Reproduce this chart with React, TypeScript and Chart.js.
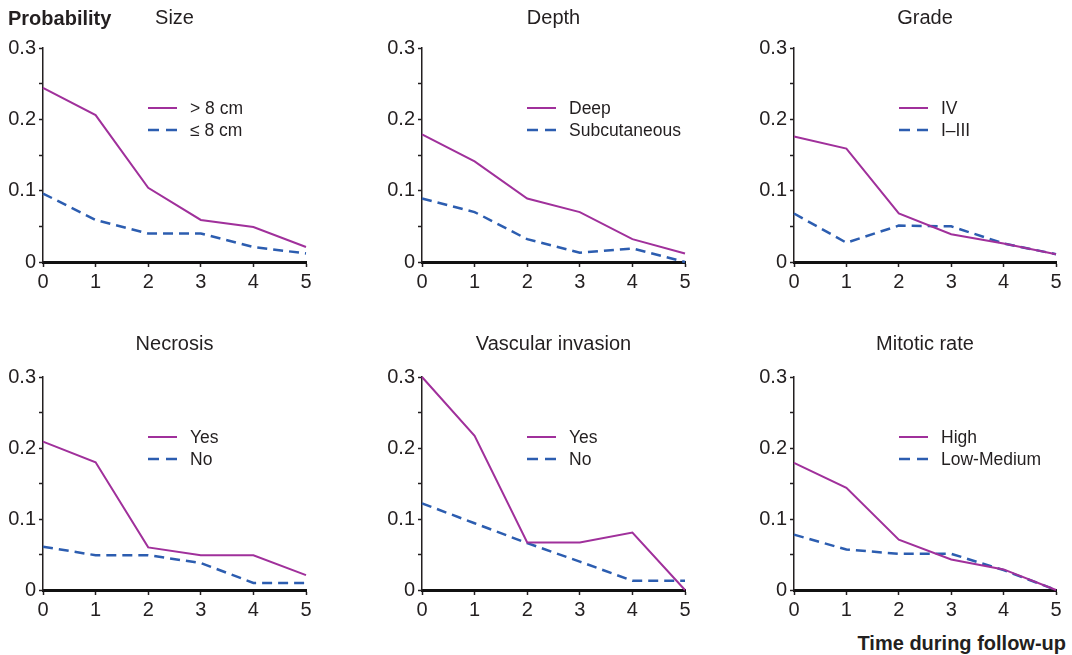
import React, { useEffect, useRef } from 'react';
import { Chart, registerables } from 'chart.js';

Chart.register(...registerables);

// ---------- data ----------
const timeLabels = ['0', '1', '2', '3', '4', '5'];
const yTickValues = [0, 0.1, 0.2, 0.3];

const panelTitles = ['Size', 'Depth', 'Grade', 'Necrosis', 'Vascular invasion', 'Mitotic rate'];
const highLabels = ['> 8 cm', 'Deep', 'IV', 'Yes', 'Yes', 'High'];
const lowLabels = ['≤ 8 cm', 'Subcutaneous', 'I–III', 'No', 'No', 'Low-Medium'];

const sizeHigh = [0.244, 0.206, 0.104, 0.059, 0.049, 0.021];
const sizeLow = [0.096, 0.059, 0.040, 0.040, 0.021, 0.012];
const depthHigh = [0.179, 0.141, 0.089, 0.070, 0.032, 0.012];
const depthLow = [0.089, 0.070, 0.032, 0.013, 0.019, 0.0];
const gradeHigh = [0.176, 0.159, 0.068, 0.039, 0.026, 0.011];
const gradeLow = [0.068, 0.027, 0.051, 0.050, 0.026, 0.011];
const necrosisHigh = [0.209, 0.180, 0.060, 0.049, 0.049, 0.021];
const necrosisLow = [0.061, 0.049, 0.049, 0.038, 0.010, 0.010];
const vascularHigh = [0.300, 0.217, 0.067, 0.067, 0.081, 0.0];
const vascularLow = [0.122, 0.094, 0.066, 0.040, 0.013, 0.013];
const mitoticHigh = [0.179, 0.144, 0.071, 0.043, 0.029, 0.0];
const mitoticLow = [0.078, 0.057, 0.051, 0.051, 0.028, 0.0];

const highSeries = [sizeHigh, depthHigh, gradeHigh, necrosisHigh, vascularHigh, mitoticHigh];
const lowSeries = [sizeLow, depthLow, gradeLow, necrosisLow, vascularLow, mitoticLow];

// ---------- style / layout ----------
const FONT = '"Liberation Sans", Arial, Helvetica, sans-serif';
const TEXT = '#231f20';
const PURPLE = '#a0309b';
const BLUE = '#2c5db0';

const colLefts = [43, 422, 794];
const colWidths = [263, 263, 262];
const rowTops = [48, 377];
const rowHeights = [214, 213];
const titleOffsets = [30, 33];

const PAD_L = 45;
const PAD_T = 45;
const PAD_R = 15;
const PAD_B = 40;

type PanelProps = { idx: number };

function Panel({ idx }: PanelProps) {
  const ref = useRef<HTMLCanvasElement | null>(null);
  const col = idx % 3;
  const row = Math.floor(idx / 3);
  const areaW = colWidths[col];
  const areaH = rowHeights[row];
  const w = PAD_L + areaW + PAD_R;
  const h = PAD_T + areaH + PAD_B;

  useEffect(() => {
    if (!ref.current) return;
    const titleOffset = titleOffsets[row];
    const overlay = {
      id: 'overlay' + idx,
      afterDraw(chart: any) {
        const ctx = chart.ctx;
        const a = chart.chartArea;
        ctx.save();
        ctx.fillStyle = TEXT;
        ctx.font = `20px ${FONT}`;
        ctx.textAlign = 'center';
        ctx.textBaseline = 'middle';
        ctx.fillText(panelTitles[idx], (a.left + a.right) / 2, a.top - titleOffset);

        // legend
        const lx0 = a.left + 105;
        const lx1 = a.left + 134;
        const tx = a.left + 147;
        const rows = [
          { y: a.top + 60, label: highLabels[idx], color: PURPLE, dash: [] as number[], width: 2 },
          { y: a.top + 82, label: lowLabels[idx], color: BLUE, dash: [11, 7], width: 2.5 },
        ];
        ctx.font = `17.5px ${FONT}`;
        ctx.textAlign = 'left';
        for (const r of rows) {
          ctx.beginPath();
          ctx.setLineDash(r.dash);
          ctx.strokeStyle = r.color;
          ctx.lineWidth = r.width;
          ctx.moveTo(lx0, r.y);
          ctx.lineTo(lx1, r.y);
          ctx.stroke();
          ctx.setLineDash([]);
          ctx.fillStyle = TEXT;
          ctx.fillText(r.label, tx, r.y + 1);
        }
        ctx.restore();
      },
    };

    const chart = new Chart(ref.current, {
      type: 'line',
      data: {
        labels: timeLabels,
        datasets: [
          {
            label: highLabels[idx],
            data: highSeries[idx],
            borderColor: PURPLE,
            borderWidth: 2,
            pointRadius: 0,
            tension: 0,
            fill: false,
            clip: false,
          },
          {
            label: lowLabels[idx],
            data: lowSeries[idx],
            borderColor: BLUE,
            borderWidth: 2.5,
            borderDash: [10, 6],
            pointRadius: 0,
            tension: 0,
            fill: false,
            clip: false,
          },
        ],
      },
      options: {
        animation: false,
        responsive: false,
        devicePixelRatio: 1,
        layout: { padding: { left: 0, top: PAD_T, right: PAD_R, bottom: 0 } },
        plugins: {
          legend: { display: false },
          title: { display: false },
          tooltip: { enabled: false },
        },
        scales: {
          x: {
            type: 'category',
            offset: false,
            grid: {
              display: true,
              drawOnChartArea: false,
              drawTicks: true,
              tickLength: 5,
              tickColor: TEXT,
              tickWidth: 1.5,
            },
            border: { display: true, color: '#111', width: 3 },
            ticks: {
              color: TEXT,
              font: { family: FONT, size: 20 },
              padding: 3,
              maxRotation: 0,
              autoSkip: false,
            },
            afterFit(scale: any) {
              scale.height = PAD_B;
            },
          },
          y: {
            min: 0,
            max: 0.3,
            grid: {
              display: true,
              drawOnChartArea: false,
              drawTicks: true,
              tickLength: 4,
              tickColor: TEXT,
              tickWidth: 1.5,
            },
            border: { display: true, color: TEXT, width: 1.5 },
            ticks: {
              stepSize: 0.05,
              color: TEXT,
              font: { family: FONT, size: 20 },
              padding: 3,
              callback: (v: any) => {
                const n = Number(v);
                const hit = yTickValues.find((t) => Math.abs(t - n) < 1e-6);
                return hit === undefined ? '' : String(hit);
              },
            },
            afterFit(scale: any) {
              scale.width = PAD_L;
            },
          },
        },
      },
      plugins: [overlay],
    } as any);
    return () => chart.destroy();
  }, [idx]);

  return (
    <canvas
      ref={ref}
      width={w}
      height={h}
      style={{
        position: 'absolute',
        left: colLefts[col] - PAD_L,
        top: rowTops[row] - PAD_T,
        width: w,
        height: h,
      }}
    />
  );
}

export default function App() {
  return (
    <div
      style={{
        position: 'absolute',
        left: 0,
        top: 0,
        width: 1072,
        height: 655,
        background: '#ffffff',
        overflow: 'hidden',
        fontFamily: FONT,
        color: TEXT,
      }}
    >
      {[0, 1, 2, 3, 4, 5].map((i) => (
        <Panel key={i} idx={i} />
      ))}
      <div
        style={{
          position: 'absolute',
          left: 8,
          top: 6,
          fontSize: 20,
          fontWeight: 'bold',
          lineHeight: '24px',
        }}
      >
        Probability
      </div>
      <div
        style={{
          position: 'absolute',
          right: 6,
          top: 631,
          fontSize: 20,
          fontWeight: 'bold',
          lineHeight: '24px',
          whiteSpace: 'nowrap',
        }}
      >
        Time during follow-up
      </div>
    </div>
  );
}
